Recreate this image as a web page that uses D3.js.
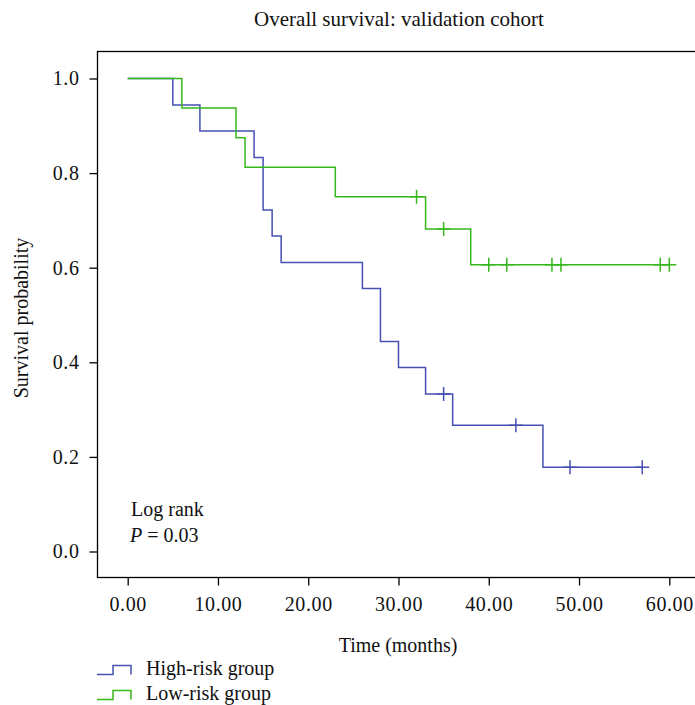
<!DOCTYPE html>
<html>
<head>
<meta charset="utf-8">
<script src="https://cdn.jsdelivr.net/npm/d3@7"></script>
<style>
  body { margin: 0; background: #fff; }
  text { font-family: "Liberation Serif", "DejaVu Serif", serif; fill: #111; }
</style>
</head>
<body>
<script>
// step times and survival after each drop
const highTimes = [0, 5, 8, 14, 15, 16, 17, 26, 28, 30, 33, 36, 46];
const highSurv = [1.0, 0.944, 0.889, 0.833, 0.722, 0.667, 0.611, 0.556, 0.444, 0.389, 0.333, 0.267, 0.178];
const highCensor = [35, 43, 49, 57];
const highEnd = 57;

const lowTimes = [0, 6, 12, 13, 23, 33, 38];
const lowSurv = [1.0, 0.9375, 0.875, 0.8125, 0.75, 0.682, 0.606];
const lowCensor = [32, 35, 40, 42, 47, 48, 59, 60];
const lowEnd = 60;

const xTicks = [0, 10, 20, 30, 40, 50, 60];
const yTicks = [0, 0.2, 0.4, 0.6, 0.8, 1.0];

const groups = [
  { name: "High-risk group", times: highTimes, surv: highSurv, censor: highCensor, end: highEnd, color: "#4650b2" },
  { name: "Low-risk group", times: lowTimes, surv: lowSurv, censor: lowCensor, end: lowEnd, color: "#36b81c" }
];

const width = 695, height = 705;
const fs = 20;
const svg = d3.select("body").append("svg")
    .attr("width", width)
    .attr("height", height);

const xScale = d3.scaleLinear().domain([0, 60]).range([127.7, 669.3]);
const yScale = d3.scaleLinear().domain([0, 1]).range([551.5, 78.5]);

// frame
svg.append("rect")
    .attr("x", 97.5)
    .attr("y", 51.5)
    .attr("width", 640)
    .attr("height", 526)
    .attr("fill", "none")
    .attr("stroke", "#000")
    .attr("stroke-width", 1.3);

const xAxis = d3.axisBottom(xScale).tickValues(xTicks).tickFormat(d3.format(".2f")).tickSize(8).tickPadding(8);
const yAxis = d3.axisLeft(yScale).tickValues(yTicks).tickFormat(d3.format(".1f")).tickSize(8).tickPadding(10);

const gx = svg.append("g")
    .attr("transform", "translate(0,577.5)")
    .call(xAxis);
const gy = svg.append("g")
    .attr("transform", "translate(97.5,0)")
    .call(yAxis);

[gx, gy].forEach(g => {
  g.select(".domain").remove();
  g.selectAll(".tick line").attr("stroke", "#000").attr("stroke-width", 1.3);
  g.selectAll(".tick text")
      .attr("font-family", "Liberation Serif, DejaVu Serif, serif")
      .attr("font-size", fs)
      .attr("letter-spacing", 0.6)
      .attr("fill", "#111");
});
gx.selectAll(".tick text").attr("dy", "0.85em");

const stepSurv = (g, t) => {
  let s = g.surv[0];
  g.times.forEach((tt, i) => { if (tt <= t) s = g.surv[i]; });
  return s;
};

groups.forEach(g => {
  const pts = [];
  g.times.forEach((t, i) => {
    if (i > 0) pts.push([t, g.surv[i - 1]]);
    pts.push([t, g.surv[i]]);
  });
  pts.push([g.end, g.surv[g.surv.length - 1]]);

  const line = d3.line().x(d => xScale(d[0])).y(d => yScale(d[1]));
  svg.append("path")
      .attr("d", line(pts))
      .attr("fill", "none")
      .attr("stroke", g.color)
      .attr("stroke-width", 1.5);

  svg.append("g")
      .selectAll("path")
      .data(g.censor)
      .enter()
      .append("path")
      .attr("d", d => {
        const cx = xScale(d), cy = yScale(stepSurv(g, d));
        return `M${cx - 7},${cy}H${cx + 7}M${cx},${cy - 7}V${cy + 7}`;
      })
      .attr("stroke", g.color)
      .attr("stroke-width", 1.5);
});

// title and labels
svg.append("text")
    .attr("x", 399)
    .attr("y", 26)
    .attr("text-anchor", "middle")
    .attr("font-size", 21)
    .text("Overall survival: validation cohort");

svg.append("text")
    .attr("transform", "translate(28,318) rotate(-90)")
    .attr("text-anchor", "middle")
    .attr("font-size", fs)
    .text("Survival probability");

svg.append("text")
    .attr("x", 398)
    .attr("y", 652)
    .attr("text-anchor", "middle")
    .attr("font-size", fs)
    .text("Time (months)");

svg.append("text")
    .attr("x", 131)
    .attr("y", 516)
    .attr("font-size", fs)
    .text("Log rank");

const pText = svg.append("text")
    .attr("x", 130)
    .attr("y", 542)
    .attr("font-size", fs);
pText.append("tspan").attr("font-style", "italic").text("P");
pText.append("tspan").text(" = 0.03");

// legend
const leg = svg.append("g")
    .selectAll("g")
    .data(groups)
    .enter()
    .append("g")
    .attr("transform", (d, i) => `translate(97,${674.5 + i * 25})`);

leg.append("path")
    .attr("d", "M0,0H16V-9H34V0")
    .attr("fill", "none")
    .attr("stroke", d => d.color)
    .attr("stroke-width", 1.5);

leg.append("text")
    .attr("x", 49)
    .attr("y", 0)
    .attr("font-size", fs)
    .text(d => d.name);
</script>
</body>
</html>
